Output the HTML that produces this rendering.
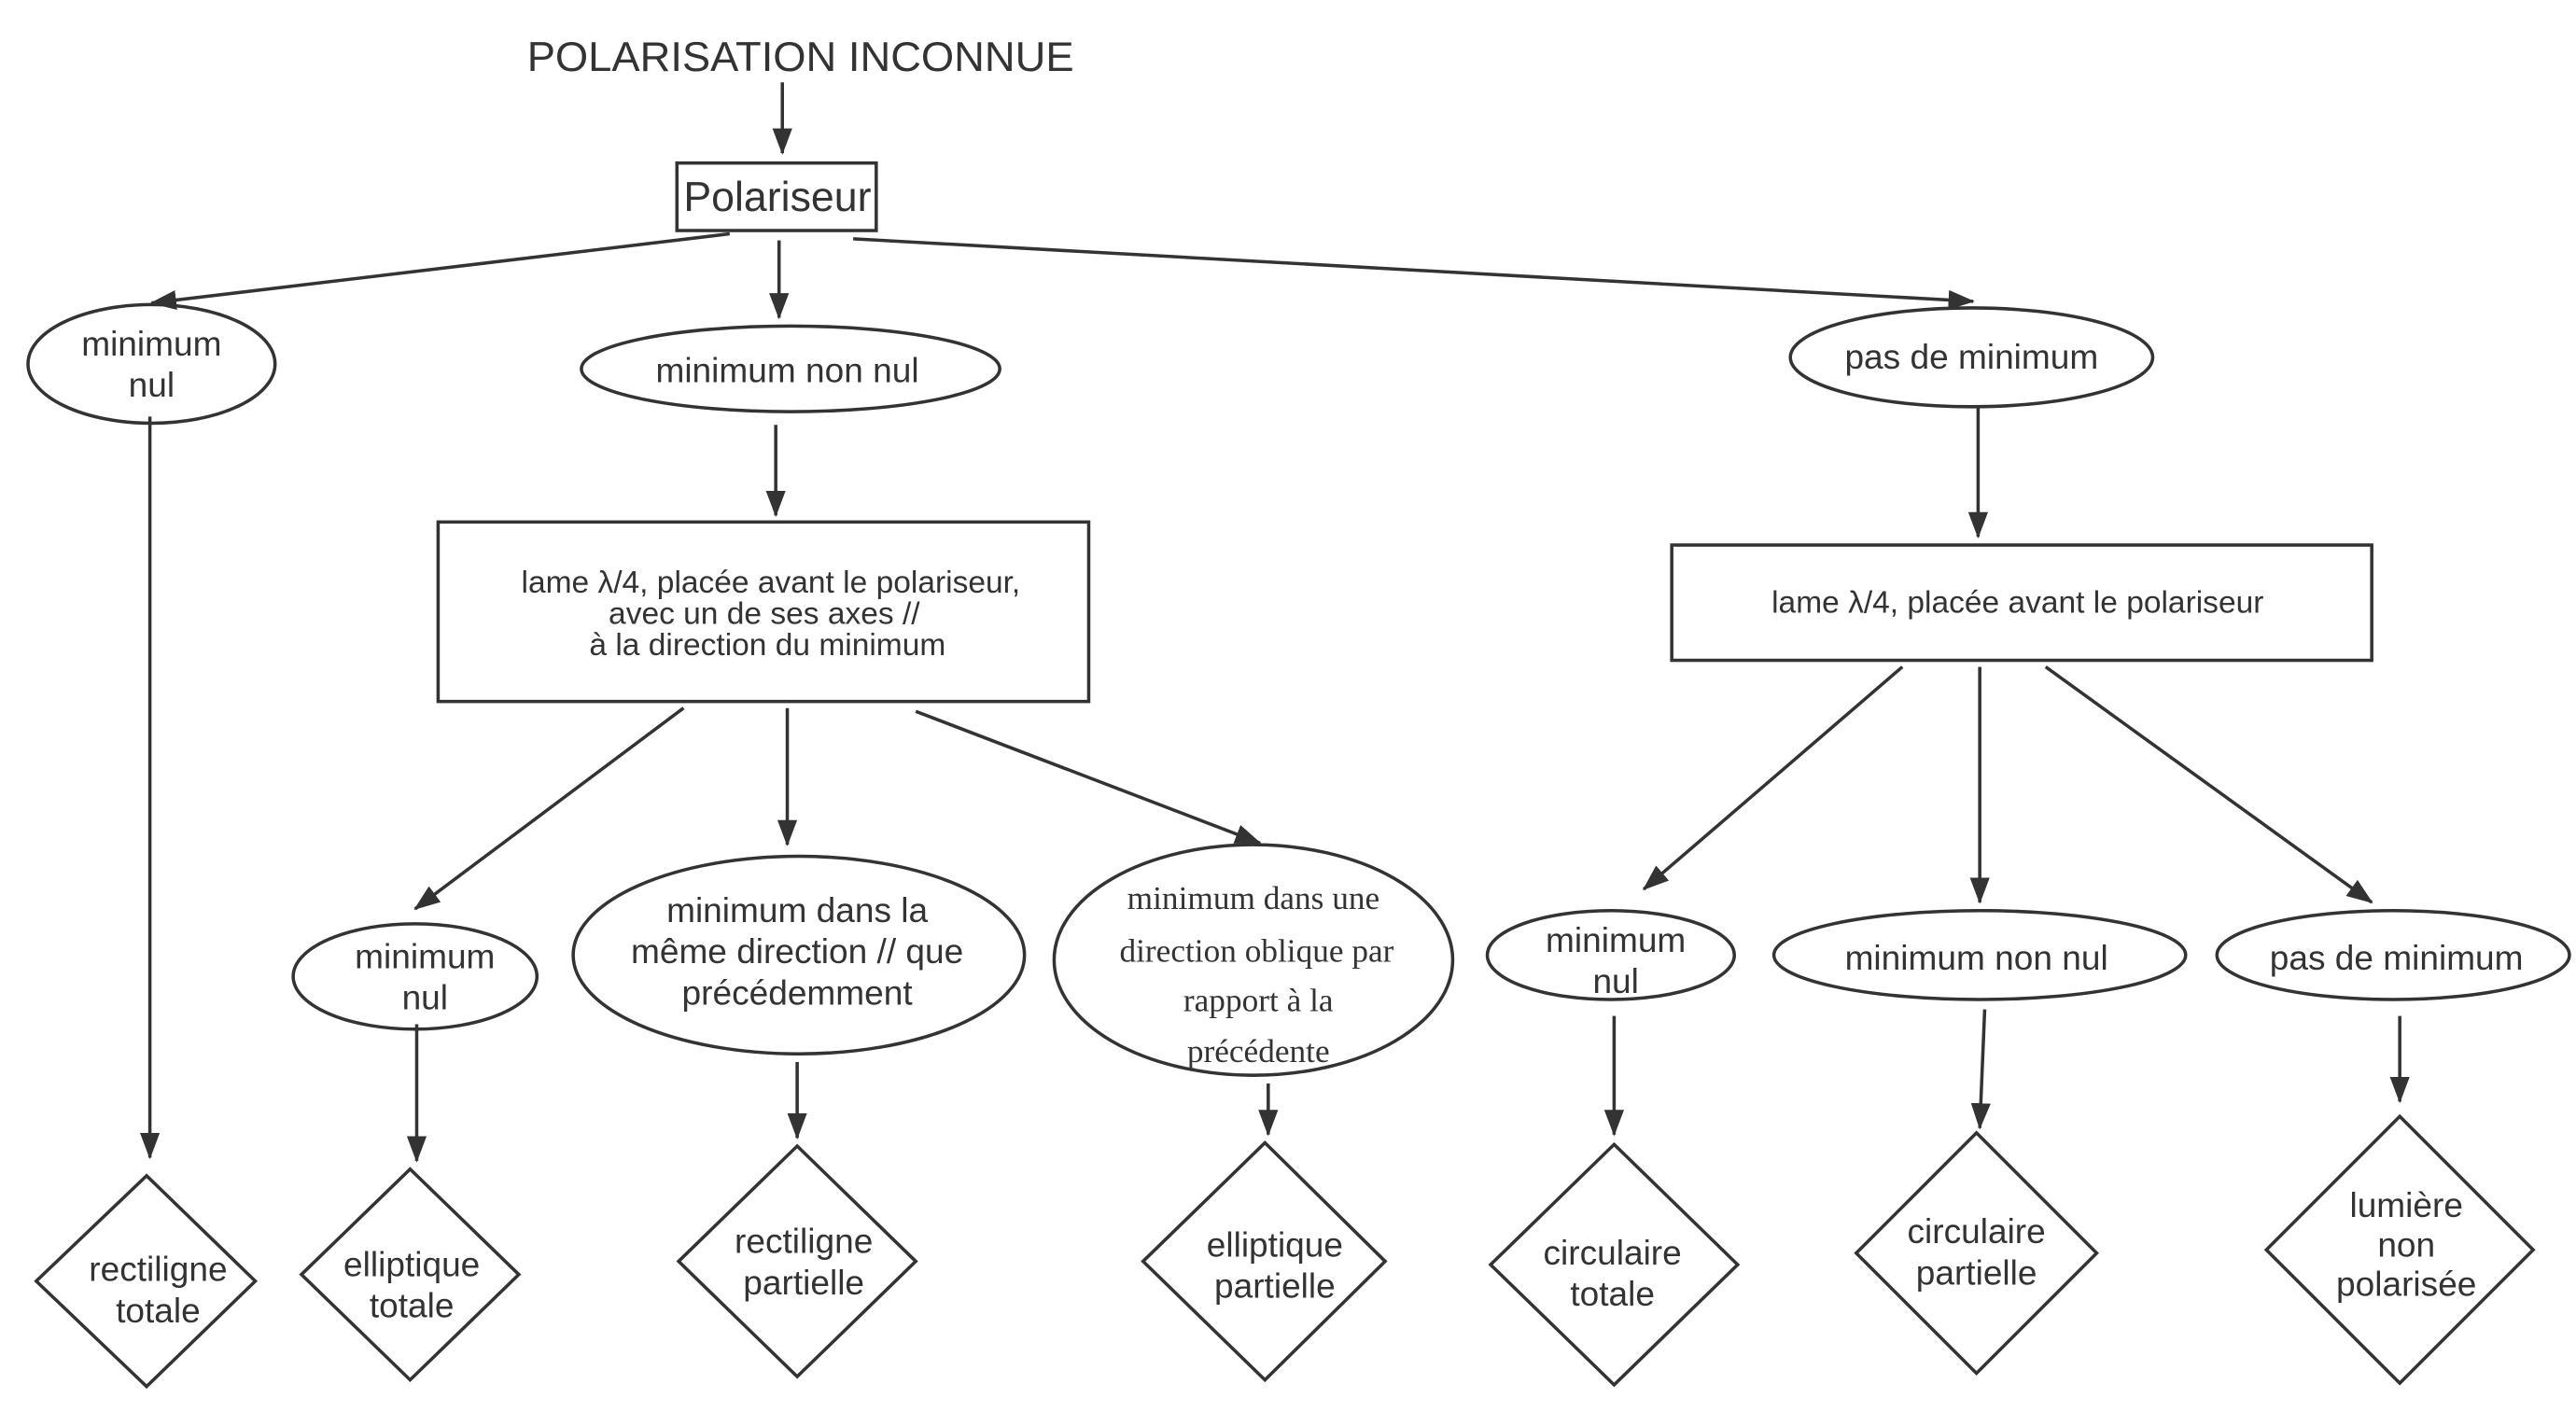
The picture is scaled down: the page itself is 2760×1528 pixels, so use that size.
<!DOCTYPE html>
<html><head><meta charset="utf-8"><style>
html,body{margin:0;padding:0;background:#fff;}
svg{display:block;}
text{font-family:"Liberation Sans",sans-serif;fill:#333;text-anchor:middle;}
.s{font-family:"Liberation Serif",serif;}
</style></head><body>
<svg width="2760" height="1528" viewBox="0 0 1564 866" preserveAspectRatio="none" xmlns="http://www.w3.org/2000/svg">
<defs><marker id="a" markerWidth="16" markerHeight="12" refX="15" refY="6" orient="auto" markerUnits="userSpaceOnUse"><path d="M0,0 L16,6 L0,12 z" fill="#333"/></marker></defs>
<g stroke="#333" stroke-width="2" fill="none">
<line x1="475" y1="50" x2="475" y2="93" marker-end="url(#a)"/>
<rect x="411" y="99" width="121" height="41"/>
<line x1="443" y1="142" x2="92" y2="184" marker-end="url(#a)"/>
<line x1="473" y1="146" x2="473" y2="193" marker-end="url(#a)"/>
<line x1="518" y1="145" x2="1198" y2="183" marker-end="url(#a)"/>
<ellipse cx="92" cy="221" rx="75" ry="36"/>
<ellipse cx="480" cy="224" rx="127" ry="26"/>
<ellipse cx="1197" cy="217" rx="110" ry="30"/>
<line x1="91" y1="253" x2="91" y2="703" marker-end="url(#a)"/>
<line x1="471" y1="258" x2="471" y2="313" marker-end="url(#a)"/>
<rect x="266" y="317" width="395" height="109"/>
<line x1="1201" y1="247" x2="1201" y2="326" marker-end="url(#a)"/>
<rect x="1015" y="331" width="425" height="70"/>
<line x1="415" y1="430" x2="252" y2="552" marker-end="url(#a)"/>
<line x1="478" y1="430" x2="478" y2="513" marker-end="url(#a)"/>
<line x1="556" y1="432" x2="765" y2="512" marker-end="url(#a)"/>
<ellipse cx="252" cy="593" rx="74" ry="32"/>
<ellipse cx="485" cy="580" rx="137" ry="60"/>
<ellipse cx="761" cy="583" rx="121" ry="70"/>
<line x1="1155" y1="405" x2="998" y2="540" marker-end="url(#a)"/>
<line x1="1202" y1="405" x2="1202" y2="548" marker-end="url(#a)"/>
<line x1="1242" y1="405" x2="1440" y2="548" marker-end="url(#a)"/>
<ellipse cx="978" cy="580" rx="75" ry="27"/>
<ellipse cx="1202" cy="580" rx="125" ry="27"/>
<ellipse cx="1453" cy="580" rx="107" ry="27"/>
<line x1="253" y1="622" x2="253" y2="705" marker-end="url(#a)"/>
<line x1="484" y1="645" x2="484" y2="691" marker-end="url(#a)"/>
<line x1="770" y1="658" x2="770" y2="689" marker-end="url(#a)"/>
<line x1="980" y1="617" x2="980" y2="689" marker-end="url(#a)"/>
<line x1="1205" y1="613" x2="1202" y2="685" marker-end="url(#a)"/>
<line x1="1457" y1="617" x2="1457" y2="669" marker-end="url(#a)"/>
<polygon points="89,714 155,778 89,842 22,778"/>
<polygon points="249,710 315,774 249,838 183,774"/>
<polygon points="484,696 556,766 484,836 412,766"/>
<polygon points="768,694 841,766 768,838 694,766"/>
<polygon points="980,695 1055,768 980,841 905,768"/>
<polygon points="1200,688 1273,761 1200,834 1127,761"/>
<polygon points="1457,678 1538,759 1457,840 1376,759"/>
</g>
<g font-size="25">
<text x="486" y="43" textLength="332" lengthAdjust="spacingAndGlyphs">POLARISATION INCONNUE</text>
<text x="472" y="128" textLength="114" lengthAdjust="spacingAndGlyphs">Polariseur</text>
</g>
<g font-size="21">
<text x="92" y="216">minimum</text><text x="92" y="241">nul</text>
<text x="478" y="232">minimum non nul</text>
<text x="1197" y="224">pas de minimum</text>
<text x="258" y="588">minimum</text><text x="258" y="613">nul</text>
<text x="484" y="560">minimum dans la</text>
<text x="484" y="585">même direction // que</text>
<text x="484" y="610">précédemment</text>
<text x="981" y="578">minimum</text><text x="981" y="603">nul</text>
<text x="1200" y="589">minimum non nul</text>
<text x="1455" y="589">pas de minimum</text>
<text x="96" y="778">rectiligne</text><text x="96" y="803">totale</text>
<text x="250" y="775">elliptique</text><text x="250" y="800">totale</text>
<text x="488" y="761">rectiligne</text><text x="488" y="786">partielle</text>
<text x="774" y="763">elliptique</text><text x="774" y="788">partielle</text>
<text x="979" y="768">circulaire</text><text x="979" y="793">totale</text>
<text x="1200" y="755">circulaire</text><text x="1200" y="780">partielle</text>
<text x="1461" y="739">lumière</text><text x="1461" y="763">non</text><text x="1461" y="787">polarisée</text>
</g>
<g font-size="19">
<text x="468" y="360">lame λ/4, placée avant le polariseur,</text>
<text x="464" y="379">avec un de ses axes //</text>
<text x="466" y="398">à la direction du minimum</text>
<text x="1225" y="372">lame λ/4, placée avant le polariseur</text>
</g>
<g font-size="20">
<text class="s" x="761" y="552">minimum dans une</text>
<text class="s" x="763" y="584">direction oblique par</text>
<text class="s" x="764" y="614">rapport à la</text>
<text class="s" x="764" y="645">précédente</text>
</g>
</svg>
</body></html>
